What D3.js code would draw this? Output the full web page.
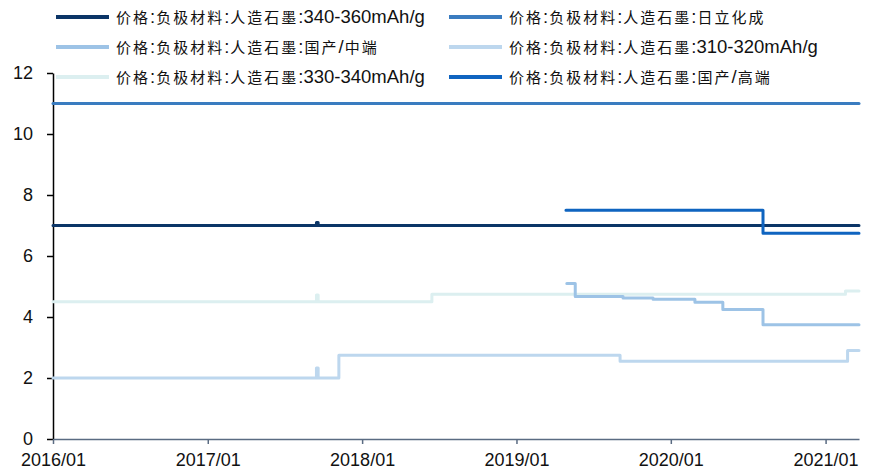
<!DOCTYPE html>
<html>
<head>
<meta charset="utf-8">
<script src="https://cdn.jsdelivr.net/npm/d3@7/dist/d3.min.js"></script>
<style>
  html, body { margin: 0; padding: 0; background: #fff; }
  svg { display: block; }
  .lbl { font-family: "Liberation Sans", Arial, sans-serif; fill: #111; }
</style>
</head>
<body>
<svg id="chart" width="869" height="472"></svg>
<script>
// Series names (legend order: left column then right column, row by row)
const seriesNames = [
  "价格:负极材料:人造石墨:340-360mAh/g",
  "价格:负极材料:人造石墨:日立化成",
  "价格:负极材料:人造石墨:国产/中端",
  "价格:负极材料:人造石墨:310-320mAh/g",
  "价格:负极材料:人造石墨:330-340mAh/g",
  "价格:负极材料:人造石墨:国产/高端"
];
const seriesColors = ["#0b3567", "#3a7cc0", "#9dc3e6", "#bdd7ee", "#dceff0", "#0f64c0"];

// Price points (date, value); each value holds until the next date
const s340_360 = [
  ["2016-01-01", 7.0], ["2017-09-15", 7.1], ["2017-09-19", 7.0], ["2021-03-21", 7.0]
];
const sHitachi = [
  ["2016-01-01", 11.0], ["2021-03-21", 11.0]
];
const sMidRange = [
  ["2019-04-30", 5.1], ["2019-05-20", 4.67], ["2019-09-10", 4.62], ["2019-11-20", 4.58],
  ["2020-02-27", 4.48], ["2020-05-03", 4.25], ["2020-08-06", 3.75], ["2021-03-21", 3.75]
];
const s310_320 = [
  ["2016-01-01", 2.0], ["2017-09-15", 2.33], ["2017-09-19", 2.0], ["2017-11-07", 2.75],
  ["2019-09-03", 2.55], ["2021-02-22", 2.9], ["2021-03-21", 2.9]
];
const s330_340 = [
  ["2016-01-01", 4.5], ["2017-09-15", 4.72], ["2017-09-19", 4.5], ["2018-06-15", 4.75],
  ["2021-02-17", 4.85], ["2021-03-21", 4.85]
];
const sHighEnd = [
  ["2019-04-28", 7.5], ["2020-08-06", 6.75], ["2021-03-21", 6.75]
];
const seriesData = [s340_360, sHitachi, sMidRange, s310_320, s330_340, sHighEnd];
// Draw order: lighter lines underneath
const drawOrder = [4, 3, 2, 1, 0, 5];

const yTicks = [0, 2, 4, 6, 8, 10, 12];
const xTickLabels = ["2016/01", "2017/01", "2018/01", "2019/01", "2020/01", "2021/01"];

const parse = d3.timeParse("%Y-%m-%d");
const svg = d3.select("#chart");

const x = d3.scaleTime()
  .domain([parse("2016-01-01"), parse("2021-03-21")])
  .range([53, 859]);
const y = d3.scaleLinear().domain([0, 12]).range([439, 73]);

// Y axis
const yAxis = svg.append("g").attr("transform", "translate(53,0)")
  .call(d3.axisLeft(y).tickValues(yTicks).tickSize(6).tickSizeOuter(0).tickPadding(14));
yAxis.select(".domain").attr("stroke", "#000").attr("stroke-width", 1.5);
yAxis.selectAll(".tick line").attr("stroke", "#000").attr("stroke-width", 1.5);
yAxis.selectAll("text").attr("class", "lbl").style("font-size", "18px").attr("fill", "#111");

// X axis
const xTickDates = xTickLabels.map(s => d3.timeParse("%Y/%m")(s));
const xAxis = svg.append("g").attr("transform", "translate(0,439)")
  .call(d3.axisBottom(x).tickValues(xTickDates).tickSize(5).tickSizeOuter(0)
    .tickPadding(9).tickFormat((d, i) => xTickLabels[i]));
xAxis.select(".domain").attr("stroke", "#5a6b82").attr("stroke-width", 1.5);
xAxis.selectAll(".tick line").attr("stroke", "#5a6b82").attr("stroke-width", 1.5);
xAxis.selectAll("text").attr("class", "lbl").style("font-size", "18px").attr("fill", "#111");

// Lines
const line = d3.line()
  .x(d => x(parse(d[0])))
  .y(d => y(d[1]))
  .curve(d3.curveStepAfter);

drawOrder.forEach(i => {
  svg.append("path")
    .datum(seriesData[i])
    .attr("fill", "none")
    .attr("stroke", seriesColors[i])
    .attr("stroke-width", 3)
    .attr("stroke-linejoin", "round")
    .attr("stroke-linecap", "round")
    .attr("d", line);
});

// Legend
const legendCols = [56, 449];
const legendRows = [17, 47, 77];
const isCJK = ch => /[\u3000-\u9fff\uff00-\uffef]/.test(ch);
seriesNames.forEach((name, i) => {
  const lx = legendCols[i % 2], ly = legendRows[Math.floor(i / 2)];
  svg.append("line")
    .attr("x1", lx).attr("x2", lx + 53).attr("y1", ly).attr("y2", ly)
    .attr("stroke", seriesColors[i]).attr("stroke-width", 4);
  const t = svg.append("text").attr("class", "lbl")
    .attr("x", lx + 59).attr("y", ly + 6);
  // split into CJK / Latin runs so each gets its own size and spacing
  const runs = [];
  for (const ch of name) {
    const c = isCJK(ch);
    if (runs.length && runs[runs.length - 1].c === c) runs[runs.length - 1].s += ch;
    else runs.push({ c, s: ch });
  }
  runs.forEach(r => {
    t.append("tspan")
      .style("font-family", r.c ? "'Noto Sans CJK SC', sans-serif" : "'Liberation Sans', Arial, sans-serif")
      .style("font-size", r.c ? "15px" : "18.5px")
      .style("letter-spacing", r.c ? "2px" : "0px")
      .attr("dx", r.c ? 1 : 0)
      .text(r.s);
  });
});
</script>
</body>
</html>
